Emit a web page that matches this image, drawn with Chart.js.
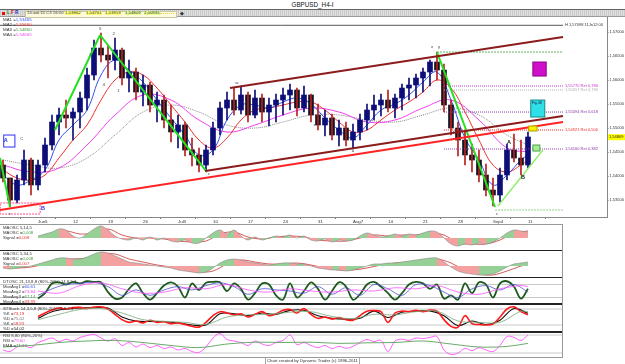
<!DOCTYPE html>
<html>
<head>
<meta charset="utf-8">
<title>GBPUSD_H4-I</title>
<script src="https://cdn.jsdelivr.net/npm/chart.js@4.4.1/dist/chart.umd.min.js"></script>
<style>
  html, body { margin: 0; padding: 0; background: #fff; }
  #wrap { position: relative; width: 625px; height: 364px; overflow: hidden; background: #fff;
          font-family: "Liberation Sans", Arial, sans-serif; color: #222; }
  #wrap canvas { position: absolute; left: 0; }
  .ln { position: absolute; }
  .tx { position: absolute; white-space: nowrap; line-height: 1; }
</style>
</head>
<body>
<div id="wrap">
  <div class="tx" style="left:0;width:625px;top:1.5px;text-align:center;font-size:6.3px;color:#111">GBPUSD_H4-I</div>
  <div class="ln" style="left:0;top:9px;width:625px;height:1px;background:#666"></div>
  <div class="ln" style="left:0;top:10px;width:625px;height:6px;background:repeating-linear-gradient(90deg,#c9c9c9 0 1px,#e0e0e0 1px 2px)"></div>
  <div class="ln" style="left:0;top:16px;width:625px;height:1px;background:#9a9a9a"></div>
  <div class="ln" style="left:2px;top:11.5px;width:3px;height:3px;background:#e01010"></div>
  <div class="tx" style="left:7px;top:11px;font-size:4.6px;font-weight:bold;color:#208020">L</div>
  <div class="tx" style="left:11px;top:11px;font-size:4.6px;font-weight:bold;color:#d02020">F</div>
  <div class="tx" style="left:15px;top:11px;font-size:4.6px;font-weight:bold;color:#2030c0">R</div>
  <div class="ln" style="left:25px;top:10.5px;width:150px;height:5px;background:#fffbe0;border:0.5px solid #c8c8a0"></div>
  <div class="tx" style="left:27px;top:11px;font-size:4.3px;color:#333">10-wd-15 C3 16:00</div>
  <div class="tx" style="left:65px;top:11px;font-size:4.3px;color:#333;background:#ffff70">1,53962</div>
  <div class="tx" style="left:86px;top:11px;font-size:4.3px;color:#333;background:#ffff70">1,54761</div>
  <div class="tx" style="left:105px;top:11px;font-size:4.3px;color:#333;background:#ffff70">1,53919</div>
  <div class="tx" style="left:125px;top:11px;font-size:4.3px;color:#333;background:#e8ff90">1,54809</div>
  <div class="tx" style="left:144px;top:11px;font-size:4.3px;color:#333;background:#e8ff90">2,00935</div>
  <div class="ln" style="left:160px;top:13px;width:14px;height:0;border-top:1px dotted #e0d040"></div>
  <div class="tx" style="left:180px;top:10.5px;font-size:5px;color:#333">&#9670;</div>

  <canvas id="main" width="625" height="208" style="top:17px"></canvas>

  <div class="ln" style="left:0;top:224px;width:562px;height:1px;background:#999"></div>
  <canvas id="p1" width="562" height="26" style="top:224px"></canvas>
  <canvas id="p2" width="562" height="28" style="top:250px"></canvas>
  <canvas id="p3" width="562" height="26" style="top:278px"></canvas>
  <canvas id="p4" width="562" height="28" style="top:304px"></canvas>
  <canvas id="p5" width="562" height="25" style="top:332px"></canvas>
  <div class="ln" style="left:0;top:250px;width:562px;height:1px;background:#222"></div>
  <div class="ln" style="left:0;top:277px;width:562px;height:1px;background:#222"></div>
  <div class="ln" style="left:0;top:303px;width:562px;height:2px;background:#222"></div>
  <div class="ln" style="left:0;top:331px;width:562px;height:2px;background:#222"></div>
  <div class="ln" style="left:0;top:357px;width:562px;height:1px;background:#999"></div>
  <div class="ln" style="left:562px;top:224px;width:1px;height:134px;background:#999"></div>
  <div class="ln" style="left:265px;top:358px;width:93px;height:6px;border:0.5px solid #aaa;border-top:0"></div>
  <div class="tx" style="left:267px;top:358.5px;font-size:4.3px;color:#333">Chart created by Dynamic Trader (c) 1996-2011</div>
</div>

<script>
Chart.defaults.font.family = '"Liberation Sans", Arial, sans-serif';
Chart.defaults.animation = false;

// ---- x axis: trading days, Jun5 = 0 ----
const dayTicks  = [0, 5, 10, 15, 20, 25, 30, 35, 40, 45, 50, 55, 60, 65, 70];
const dayLabels = ['Jun5', '12', '19', '26', 'Jul3', '10', '17', '24', '31', 'Aug7', '14', '21', '28', 'Sep4', '11'];
const priceTicks = [1.535, 1.54, 1.545, 1.55, 1.555, 1.56, 1.565, 1.57];
const lastPrice = 1.54809;

// ---- daily bars, day -5 .. 70 ----
const highs = [1.54333,1.53958,1.54021,1.54542,1.54375,1.54333,1.54792,1.55271,1.55417,1.55583,
  1.55417,1.5575,1.5625,1.56833,1.56979,1.56729,1.56875,1.56667,1.56417,1.5625,
  1.56104,1.55958,1.5575,1.55688,1.55479,1.55271,1.55125,1.54792,1.54583,1.54646,
  1.55125,1.55542,1.5575,1.55833,1.55875,1.5575,1.55792,1.55708,1.55625,1.55708,
  1.55833,1.55917,1.55833,1.55875,1.55708,1.555,1.55375,1.55292,1.55167,1.55125,
  1.55083,1.55292,1.555,1.55688,1.55708,1.55792,1.55708,1.55917,1.56042,1.56125,
  1.5625,1.56417,1.56583,1.56333,1.55583,1.55125,1.54917,1.54667,1.54542,1.5425,
  1.53958,1.54167,1.54667,1.54875,1.5475,1.54917];
const lows = [1.53875,1.53354,1.53438,1.53813,1.53604,1.53708,1.54083,1.54542,1.54854,1.55,
  1.5475,1.55,1.55375,1.56,1.56375,1.56042,1.56208,1.55896,1.5575,1.55583,
  1.55458,1.55333,1.55125,1.55,1.54708,1.54583,1.54417,1.54208,1.54083,1.54125,
  1.54438,1.54854,1.55167,1.55271,1.55292,1.55125,1.55208,1.55125,1.55042,1.55125,
  1.55271,1.55375,1.5525,1.55333,1.55125,1.54958,1.54833,1.5475,1.54625,1.54625,
  1.54563,1.5475,1.54958,1.55167,1.5525,1.55333,1.55208,1.55375,1.55583,1.55625,
  1.5575,1.55875,1.56,1.55333,1.54854,1.54417,1.54229,1.54083,1.53875,1.53583,
  1.53375,1.53458,1.53917,1.54292,1.54021,1.54167];
const opens = [1.54229,1.53958,1.535,1.53917,1.54333,1.53813,1.54229,1.54646,1.55125,1.55271,
  1.55208,1.55333,1.55625,1.56104,1.56667,1.56521,1.56417,1.56625,1.56042,1.56167,
  1.5575,1.55896,1.55479,1.55583,1.55167,1.54917,1.55063,1.54542,1.54438,1.54229,
  1.54542,1.55,1.55417,1.55583,1.55375,1.55688,1.55271,1.55625,1.55333,1.55479,
  1.55583,1.55688,1.55792,1.55417,1.55688,1.55271,1.55063,1.55208,1.54854,1.55,
  1.5475,1.54917,1.55167,1.55375,1.55479,1.55583,1.55417,1.55625,1.55833,1.55896,
  1.56042,1.56167,1.56375,1.56208,1.55479,1.55,1.5475,1.54438,1.54333,1.54021,
  1.53708,1.53604,1.54021,1.54542,1.54375,1.54229];
const closes = [1.53958,1.535,1.53917,1.54333,1.53813,1.54229,1.54646,1.55125,1.55271,1.55208,
  1.55333,1.55625,1.56104,1.56667,1.56521,1.56417,1.56625,1.56042,1.56167,1.5575,
  1.55896,1.55479,1.55583,1.55167,1.54917,1.55063,1.54542,1.54438,1.54229,1.54542,
  1.55,1.55417,1.55583,1.55375,1.55688,1.55271,1.55625,1.55333,1.55479,1.55583,
  1.55688,1.55792,1.55417,1.55688,1.55271,1.55063,1.55208,1.54854,1.55,1.5475,
  1.54917,1.55167,1.55375,1.55479,1.55583,1.55417,1.55625,1.55833,1.55896,1.56042,
  1.56167,1.56375,1.56208,1.55479,1.55,1.5475,1.54438,1.54333,1.54021,1.53708,
  1.53604,1.54021,1.54542,1.54375,1.54229,1.54813];

// ---- moving averages (read at sparse days) ----
const maDaysA = [-5,-3,-1,1,3,5,7,9,11,13,15,17,19,21,23,25,27,29,31,33,35,37,39,41,43,45,47,49,51,53,55,57,59,61,63,65,67,69,70];
const ma1 = [1.54021,1.53813,1.53917,1.54125,1.5475,1.55063,1.55375,1.56104,1.56417,1.56208,1.55958,1.55583,1.55208,
  1.54854,1.54438,1.54542,1.55167,1.55479,1.55479,1.55417,1.55542,1.55625,1.555,1.55208,1.54958,1.54792,
  1.55063,1.55375,1.555,1.55688,1.55958,1.56167,1.55583,1.54792,1.54333,1.53813,1.54021,1.54333,1.54438];
const ma2 = [1.54125,1.53958,1.53917,1.54021,1.54375,1.5475,1.55063,1.55583,1.56,1.56167,1.56104,1.55833,1.55479,
  1.55125,1.5475,1.54583,1.54792,1.55167,1.55375,1.55417,1.55479,1.55542,1.55542,1.55375,1.55125,1.54917,
  1.54958,1.55167,1.55375,1.55542,1.5575,1.56,1.55833,1.55333,1.5475,1.54229,1.54083,1.54229,1.54333];
const maDaysB = [-5,-1,3,7,11,15,19,23,27,31,35,39,43,47,51,55,59,63,67,70];
const ma4 = [1.54229,1.54083,1.54167,1.54646,1.55271,1.55688,1.55583,1.55167,1.54917,1.55063,
  1.55271,1.55417,1.55333,1.55125,1.55167,1.55417,1.55583,1.55167,1.54583,1.545];
const maSlow = [1.54333,1.54229,1.54167,1.54375,1.54854,1.55333,1.55479,1.55333,1.55063,1.55,
  1.55125,1.55271,1.55271,1.55167,1.55125,1.55271,1.55417,1.55271,1.54854,1.54646];

// ---- drawn tools (day, price) ----
const supportX = [-5.43, 75],  supportY = [1.53292, 1.55125];
const chanTopX = [27.43, 75],  chanTopY = [1.55833, 1.56896];
const chanLowX = [23.86, 75],  chanLowY = [1.54104, 1.5525];
const greenLegs = [
  [[-5.43, 1.54375], [-4, 1.53354]],
  [[2.43, 1.54958], [8.86, 1.56938]],
  [[8.86, 1.56938], [24.14, 1.54083]],
  [[57, 1.56583], [65.29, 1.53354]]
];
const upLegX = [65.71, 72.14], upLegY = [1.53375, 1.54542];
const highLevel = 1.5714, highText = 'H 1,57098 11Jn12:00';
const swingTop = 1.56583, swingLow = 1.53292;
const fibLevels = [1.55875, 1.55792, 1.55333, 1.54958, 1.54563];
const fibTexts  = ['1,55770 Ret 0,786', '1,55657 Ret 0,786', '1,55094 Ret 0,618', '1,54921 Ret 0,500', '1,54160 Ret 0,382'];
const zoneBoxes = [
  { kind: 'mag',  d0: 70.7, d1: 72.6, p0: 1.56375, p1: 1.56083, text: '' },
  { kind: 'cyan', d0: 70.4, d1: 72.4, p0: 1.55583, p1: 1.55229, text: 'Fig 48' },
  { kind: 'yel',  d0: 70.1, d1: 71.3, p0: 1.55042, p1: 1.54938, text: '' },
  { kind: 'grn',  d0: 70.7, d1: 71.7, p0: 1.54646, p1: 1.5452, text: '' },
  { kind: 'dash', d0: -5.4, d1: 0.3, p0: 1.53438, p1: 1.53208, text: '' },
  { kind: 'blue', d0: -4.9, d1: -3.3, p0: 1.54854, p1: 1.54604, text: '' }
];
const waveLabels = [
  { d: 8.9, p: 1.5706, t: '5' }, { d: 7.5, p: 1.5652, t: '3' }, { d: 9.4, p: 1.5590, t: '4' },
  { d: 11.5, p: 1.5577, t: '1' }, { d: 10.8, p: 1.5696, t: '2' }, { d: -4, p: 1.5322, t: 'c' },
  { d: -2.3, p: 1.5477, t: 'C' }, { d: 24.4, p: 1.5404, t: 'c' }, { d: 28.4, p: 1.5594, t: 'w' },
  { d: 39.5, p: 1.5506, t: 'x' }, { d: 45, p: 1.5452, t: 'a' }, { d: 56.3, p: 1.5670, t: 'x' },
  { d: 57.3, p: 1.5670, t: 'y' }, { d: 59.4, p: 1.5489, t: '1' }, { d: 65.6, p: 1.5321, t: 'c' }
];
const bigLabels = [
  { d: -4.6, p: 1.5473, t: 'A', blue: true }, { d: 0.7, p: 1.5333, t: 'B', blue: true },
  { d: 67.3, p: 1.5469, t: 'A' }, { d: 69.3, p: 1.5397, t: 'B' }
];
const maLegend = [['MA1 =', '1,53465'], ['MA2 =', '1,55660'], ['MA3 =', '1,54850'], ['MA4 =', '1,54665']];

// ---- indicator panels ----
const osc1 = [0.002,0.004,0.006,0.009,0.008,0.002,0,0.004,0.009,0.012,0.008,0.002,-0.001,-0.002,0,-0.002,0.001,-0.002,0,-0.003,
  -0.004,-0.002,-0.005,-0.005,0,0.005,0.008,0.004,0.008,0.002,-0.002,0.001,-0.002,0,0.002,0.001,0.003,0,0.002,-0.002,
  -0.003,-0.001,-0.004,-0.002,-0.003,-0.002,0.002,0.005,0.003,0.001,0.002,0.004,0.002,0.004,0.003,0.005,0.007,0.006,0,-0.006,
  -0.008,-0.006,-0.007,-0.005,-0.006,-0.004,0,0.005,0.008,0.007,0.006];
const sig1 = [0.001,0.004,0.007,0.004,0.005,0.009,0.003,0,0,-0.001,-0.003,-0.004,-0.003,0.004,0.006,0.001,-0.001,0.001,
  0.002,0.001,-0.002,-0.003,-0.003,0,0.003,0.002,0.003,0.003,0.005,0.003,-0.005,-0.006,-0.006,-0.002,0.005,0.007];
const osc2 = [-0.002,-0.003,-0.002,-0.001,0,0.002,0.004,0.006,0.008,0.008,0.007,0.007,0.009,0.012,0.014,
  0.013,0.01,0.007,0.004,0.003,0.002,0.001,0,-0.001,-0.002,-0.004,-0.005,-0.006,-0.007,-0.006,-0.002,0.003,0.006,0.007,0.006,
  0.004,0.003,0.002,0.001,0.002,0.003,0.003,0.002,0.002,0,-0.002,-0.003,-0.004,-0.004,-0.005,-0.004,-0.002,0,0.002,0.002,
  0.003,0.003,0.004,0.005,0.006,0.007,0.008,0.008,0.004,-0.001,-0.005,-0.007,-0.008,-0.009,-0.009,-0.008,-0.005,-0.001,0.002,0.003,0.004];
const sig2 = [-0.001,-0.002,-0.001,0.002,0.006,0.007,0.008,0.012,0.012,0.007,0.004,0.001,-0.001,-0.004,-0.006,-0.005,0.002,0.006,
  0.004,0.002,0.002,0.003,0.001,-0.002,-0.004,-0.004,-0.002,0.001,0.003,0.004,0.006,0.007,0.003,-0.004,-0.008,-0.009,-0.005,0,0.002];
const dtFast = [15,40,85,90,80,92,85,95,92,90,45,15,20,60,85,40,10,40,75,90,70,20,85,55,88,92,90,50,85,60,
  10,40,85,80,30,10,85,20,50,90,60,10,50,90,70,10,35,80,92,70,40,10,40,80,92,85,60,80,15,30,10,85,40,90,80,20,85,95,70,15,60];
const dtBlue = [30,60,80,85,90,70,30,55,30,55,70,55,75,88,70,35,60,55,50,40,70,35,65,30,80,60,30,80,75,45,20,60,75,55,80,45];
const dtMag = [50,40,75,88,60,40,45,65,60,80,55,45,60,50,45,55,50,65,60,75,45,35,60,75,70];
const stK = [52,65,76,84,80,85,86,82,87,88,80,60,40,30,35,28,38,30,32,25,28,22,15,12,30,55,70,65,58,62,
  50,60,70,55,62,75,78,65,82,60,45,50,42,48,40,38,55,72,74,70,30,65,72,70,75,70,76,72,40,15,12,55,25,22,20,24,50,80,88,70,58];
const stD = [45,70,80,84,85,84,50,35,33,32,28,20,20,62,62,55,65,60,75,75,55,45,42,45,72,48,68,72,73,55,18,35,22,38,82,64];
const stSlow = [40,60,78,82,65,40,34,30,22,50,58,60,68,70,52,44,60,58,70,72,35,30,30,72,70];
const rsi = [30,25,40,45,38,55,63,70,58,66,60,72,78,82,70,60,68,45,55,40,50,38,45,35,40,30,35,25,22,40,70,85,65,60,55,
  45,60,50,45,55,62,80,48,55,45,38,45,35,42,36,42,55,65,58,62,25,60,66,62,70,68,72,75,30,15,20,35,28,38,30,25,45,75,72,62,80];
const rsiEma = [40,45,55,60,62,55,45,38,50,56,55,56,52,54,55,60,50,40,42,52];

// ---- helpers ----
const rng = (a, b, s) => { const r = []; for (let v = a; v <= b; v += s) r.push(v); return r; };
const pts = (xs, ys) => xs.map((x, i) => ({ x, y: ys[i] }));
const allDays = rng(-5, 70, 1);
const days0 = rng(0, 70, 1);
const even0 = rng(0, 70, 2);
const odd5 = rng(-5, 69, 2).concat([70]);
const step3 = rng(0, 69, 3).concat([70]);
const step4 = rng(-5, 67, 4).concat([70]);

const X_MIN = -5.43, X_MAIN_MAX = 81.29, X_PANEL_MAX = 74.86;
const FONT = '"Liberation Sans", Arial, sans-serif';
const C = { blue: '#3050f0', red: '#f03030', green: '#3a9a3a', mag: '#f040f0', dark: '#333' };

const boxStyle = {
  mag:  { fill: '#d010c8', stroke: '#8a0088' },
  cyan: { fill: '#30e0e8', stroke: '#108888' },
  yel:  { fill: '#f8f000', stroke: '#b0a000' },
  grn:  { fill: '#a0f090', stroke: '#50a050' },
  dash: { stroke: '#ff5090', dash: [2, 1] },
  blue: { stroke: '#3030ff' }
};
const fibColors = ['#c838c8', '#b0b0b0', '#8a3aa8', '#f02828', '#8a3aa8'];

const mainNotes = {
  id: 'mainNotes',
  afterDatasetsDraw(chart) {
    const { ctx, scales: { x, y }, chartArea } = chart;
    ctx.save();
    ctx.textBaseline = 'middle';
    zoneBoxes.forEach(b => {
      const s = boxStyle[b.kind];
      const x0 = x.getPixelForValue(b.d0), x1 = x.getPixelForValue(b.d1);
      const y0 = y.getPixelForValue(b.p0), y1 = y.getPixelForValue(b.p1);
      if (s.fill) { ctx.fillStyle = s.fill; ctx.fillRect(x0, y0, x1 - x0, y1 - y0); }
      ctx.strokeStyle = s.stroke; ctx.lineWidth = 1; ctx.setLineDash(s.dash || []);
      ctx.strokeRect(x0, y0, x1 - x0, y1 - y0);
      ctx.setLineDash([]);
      if (b.text) { ctx.fillStyle = '#114'; ctx.font = '3.6px ' + FONT; ctx.fillText(b.text, x0 + 1, y0 + 3); }
    });
    // level texts at right end
    const xr = x.getPixelForValue(75) + 2;
    ctx.font = '4px ' + FONT;
    fibLevels.forEach((v, i) => { ctx.fillStyle = fibColors[i]; ctx.fillText(fibTexts[i], xr, y.getPixelForValue(v)); });
    ctx.fillStyle = '#333';
    ctx.fillText(highText, xr, y.getPixelForValue(highLevel));
    // wave labels
    ctx.textAlign = 'center';
    ctx.font = '4.4px ' + FONT;
    ctx.fillStyle = '#444';
    waveLabels.forEach(l => ctx.fillText(l.t, x.getPixelForValue(l.d), y.getPixelForValue(l.p)));
    ctx.font = 'bold 5.5px ' + FONT;
    bigLabels.forEach(l => { ctx.fillStyle = l.blue ? '#2030e0' : '#111'; ctx.fillText(l.t, x.getPixelForValue(l.d), y.getPixelForValue(l.p)); });
    // MA legend
    ctx.textAlign = 'left';
    ctx.font = '4.4px ' + FONT;
    const maCols = [C.blue, C.red, C.green, C.mag];
    maLegend.forEach((m, i) => {
      const yy = chartArea.top + 2.5 + i * 5;
      ctx.fillStyle = C.dark; ctx.fillText(m[0], 3, yy);
      ctx.fillStyle = maCols[i]; ctx.fillText(m[1], 3 + ctx.measureText(m[0]).width, yy);
    });
    // last price tag on the axis
    const py = y.getPixelForValue(lastPrice);
    ctx.fillStyle = '#ffff00';
    ctx.fillRect(chartArea.right + 1, py - 3, 17, 6);
    ctx.fillStyle = '#222';
    ctx.font = '4px ' + FONT;
    ctx.fillText(lastPrice.toFixed(5).replace('.', ','), chartArea.right + 2, py);
    ctx.restore();
  }
};

const seg = (xs, ys, color, width, extra) => Object.assign({
  type: 'line', data: pts(xs, ys), borderColor: color, borderWidth: width,
  pointRadius: 0, fill: false, tension: 0, order: 0
}, extra || {});

const isUp = allDays.map((d, i) => closes[i] >= opens[i]);
const bodyCol = isUp.map(u => u ? '#0e0e78' : '#151525');
const wickCol = isUp.map(u => u ? '#0e0e78' : '#b82020');

const datasets = [
  seg(supportX, supportY, '#ff2424', 2),
  seg(chanTopX, chanTopY, '#8c1c1c', 2),
  seg(chanLowX, chanLowY, '#8c1c1c', 2),
  ...greenLegs.map(l => seg([l[0][0], l[1][0]], [l[0][1], l[1][1]], '#22e022', 2)),
  seg(upLegX, upLegY, '#90ee70', 1.5),
  seg([X_MIN, 75], [highLevel, highLevel], '#555', 1),
  seg([57, 75], [swingTop, swingTop], '#60b060', 1, { borderDash: [2, 1] }),
  seg([65.3, 75], [swingLow, swingLow], '#90d090', 1, { borderDash: [2, 1] }),
  ...fibLevels.map((v, i) => seg([58, 75], [v, v], fibColors[i], 1, { borderDash: [1, 1] })),
  { type: 'bar', data: pts(allDays, allDays.map((d, i) => [lows[i], highs[i]])),
    backgroundColor: wickCol, barThickness: 1, grouped: false, order: 1 },
  { type: 'bar', data: pts(allDays, allDays.map((d, i) => [opens[i], closes[i]])),
    backgroundColor: bodyCol, barThickness: 5, grouped: false, order: 1 },
  seg(maDaysA, ma1, C.blue, 1, { tension: 0.4, order: 2 }),
  seg(maDaysA, ma2, C.red, 1, { tension: 0.4, order: 2 }),
  seg(maDaysB, ma4, C.mag, 1, { tension: 0.4, order: 2 }),
  seg(maDaysB, maSlow, '#888', 1, { tension: 0.4, order: 2, borderDash: [1, 1] })
];

new Chart(document.getElementById('main'), {
  type: 'bar',
  data: { datasets },
  options: {
    responsive: false, animation: false, events: [],
    layout: { padding: 0 },
    plugins: { legend: { display: false }, tooltip: { enabled: false } },
    scales: {
      x: {
        type: 'linear', min: X_MIN, max: X_MAIN_MAX, offset: false,
        afterBuildTicks: s => { s.ticks = dayTicks.map(v => ({ value: v })); },
        afterFit: s => { s.height = 8; s.paddingLeft = 0; s.paddingRight = 0; },
        ticks: { callback: v => dayLabels[dayTicks.indexOf(v)], font: { size: 4.4 }, color: '#333',
                 padding: 0, maxRotation: 0, autoSkip: false, align: 'start' },
        grid: { drawOnChartArea: false, tickLength: 2, color: '#777' },
        border: { color: '#888' }
      },
      y: {
        position: 'right', min: 1.53146, max: 1.57313,
        afterBuildTicks: s => { s.ticks = priceTicks.map(v => ({ value: v })); },
        afterFit: s => { s.width = 18; s.paddingTop = 0; s.paddingBottom = 0; },
        ticks: { callback: v => v.toFixed(5).replace('.', ','), font: { size: 4 }, color: '#333', padding: 1 },
        grid: { drawOnChartArea: false, tickLength: 1.5, color: '#777' },
        border: { color: '#888' }
      }
    }
  },
  plugins: [mainNotes]
});

// ---- panels ----
const panelText = {
  id: 'panelText',
  afterDraw(chart, args, opts) {
    const ctx = chart.ctx;
    ctx.save();
    ctx.font = '4.3px ' + FONT;
    ctx.textBaseline = 'middle';
    opts.lines.forEach((ln, i) => {
      const yy = opts.top + i * opts.step;
      ctx.fillStyle = C.dark;
      ctx.fillText(ln[0], 3, yy);
      if (ln[1]) { ctx.fillStyle = ln[2]; ctx.fillText(ln[1], 3 + ctx.measureText(ln[0]).width, yy); }
    });
    ctx.restore();
  }
};

function panel(id, yMin, yMax, sets, lines, top, step) {
  return new Chart(document.getElementById(id), {
    type: 'line',
    data: { datasets: sets },
    options: {
      responsive: false, animation: false, events: [],
      layout: { padding: 0 },
      elements: { point: { radius: 0 } },
      scales: {
        x: { type: 'linear', min: X_MIN, max: X_PANEL_MAX, display: false },
        y: { min: yMin, max: yMax, display: false }
      },
      plugins: { legend: { display: false }, tooltip: { enabled: false },
                 panelText: { lines, top, step } }
    },
    plugins: [panelText]
  });
}

const oscUp = '#96d096', oscDown = '#f4a0a0';
const oscArea = (xs, ys) => ({
  data: pts(xs, ys), borderColor: '#8a8a8a', borderWidth: 0.6, tension: 0.35,
  fill: 'origin', backgroundColor: oscUp,
  segment: { backgroundColor: c => c.p1.parsed.y >= c.p0.parsed.y ? oscUp : oscDown }
});
const refLine = v => ({ data: pts([X_MIN, X_PANEL_MAX], [v, v]), borderColor: '#c8c8c8', borderWidth: 1, order: 5 });
const ln = (xs, ys, color, width) => ({ data: pts(xs, ys), borderColor: color, borderWidth: width, tension: 0.35 });

panel('p1', -0.012, 0.014, [
  oscArea(days0, osc1),
  ln(even0, sig1, '#d03030', 0.8)
], [['MAOSC 5,14,5'], ['MAOSC =', '0,008', C.green], ['Signal =', '0,008', C.red]], 3.5, 5);

panel('p2', -0.012, 0.016, [
  oscArea(allDays, osc2),
  ln(odd5, sig2, '#d03030', 0.8)
], [['MAOSC 5,34,5'], ['MAOSC =', '0,008', C.green], ['Signal =', '0,007', C.red]], 3.5, 5);

panel('p3', -10, 110, [
  refLine(80), refLine(20),
  ln(step3, dtMag, '#ff50ff', 0.8),
  ln(even0, dtBlue, '#5050d0', 0.8),
  ln(days0, dtFast, '#1d5a1d', 1.8)
], [['DTOSC 21,13,8,8 (80%-20%) 14,8,5,3'], ['MovAvg1 =', '60,61', C.blue], ['MovAvg2 =', '73,84', C.mag],
    ['MovAvg3 =', '67,14', C.green], ['MovAvg4 =', '39,99', C.red]], 4, 4.9);

panel('p4', -6.25, 98.75, [
  refLine(80), refLine(20),
  ln(step3, stSlow, '#78a878', 0.8),
  ln(days0, stK, '#ff1a1a', 1.6),
  ln(even0, stD, '#111', 1.1)
], [['STStoch 14,3,5,8 (80%-20%) 8,8,3,4'], ['%K =', '73,19', C.red], ['%D =', '75,02', '#777'],
    ['%K =', '58,93', C.red], ['%D =', '54,02', '#222']], 4.5, 5);

panel('p5', 6.67, 90, [
  refLine(80), refLine(20),
  ln(step4, rsiEma, '#5aa05a', 0.9),
  ln(allDays, rsi, '#ff50ff', 0.9)
], [['RSI 8,80 (80%-20%)'], ['RSI =', '79,60', C.mag], ['EMA =', '71,17', C.green]], 3.5, 5);
</script>
</body>
</html>
